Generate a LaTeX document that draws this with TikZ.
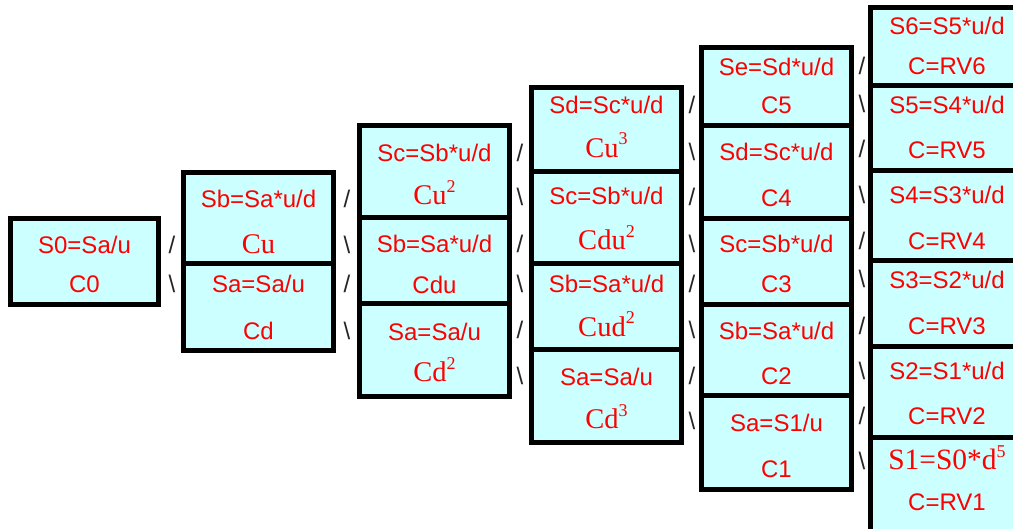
\documentclass[tikz,border=0pt]{standalone}
\usepackage{fontspec}
\setmainfont{Liberation Sans}
\newfontfamily\serf{Liberation Serif}
\usetikzlibrary{fit}
\definecolor{boxfill}{HTML}{CCFFFF}
\definecolor{txtred}{HTML}{FF0000}
\newcommand\pw[1]{\raisebox{12.5pt}{\fontsize{18}{18}\selectfont #1}}
\begin{document}
\begin{tikzpicture}[x=1pt,y=-1pt,
  cell/.style={draw=black, line width=5pt, fill=boxfill, rectangle, inner sep=0pt},
  lbl/.style={anchor=base, text=txtred, font=\fontsize{24}{28}\selectfont, inner sep=0pt},
  slbl/.style={anchor=base, text=txtred, font=\serf\fontsize{28.5}{32}\selectfont, inner sep=0pt},
  sl/.style={anchor=base, text=black!85, font=\fontsize{24}{28}\selectfont, inner sep=0pt}]
\useasboundingbox (0,0) rectangle (1013,529);
\fill[white] (0,0) rectangle (1013,529);
\clip (0,0) rectangle (1013,529);

% column 0
\node[cell, fit={(10.5,218.5) (158.5,304.5)}] (b00) {};
\node[lbl] (t00a) at (84.5,254) {S0=Sa/u};
\node[lbl] (t00b) at (84.5,293) {C0};

% column 1
\node[cell, fit={(183.5,172.5) (333.5,264)}] (b10) {};
\node[cell, fit={(183.5,264) (333.5,350.5)}] (b11) {};
\node[lbl] (t10a) at (258.5,208) {Sb=Sa*u/d};
\node[slbl] (t10b) at (258.5,254) {Cu};
\node[lbl] (t11a) at (258.5,293) {Sa=Sa/u};
\node[lbl] (t11b) at (258.5,340) {Cd};

% column 2
\node[cell, fit={(359.5,125.5) (509.5,218)}] (b20) {};
\node[cell, fit={(359.5,218) (509.5,304)}] (b21) {};
\node[cell, fit={(359.5,304) (509.5,396.5)}] (b22) {};
\node[lbl] (t20a) at (434.5,162) {Sc=Sb*u/d};
\node[slbl] (t20b) at (434.5,205) {Cu\pw{2}};
\node[lbl] (t21a) at (434.5,253) {Sb=Sa*u/d};
\node[lbl] (t21b) at (434.5,294) {Cdu};
\node[lbl] (t22a) at (434.5,340.5) {Sa=Sa/u};
\node[slbl] (t22b) at (434.5,382) {Cd\pw{2}};

% column 3
\node[cell, fit={(531.5,87.5) (681.5,172)}] (b30) {};
\node[cell, fit={(531.5,172) (681.5,264)}] (b31) {};
\node[cell, fit={(531.5,264) (681.5,350)}] (b32) {};
\node[cell, fit={(531.5,350) (681.5,442.5)}] (b33) {};
\node[lbl] (t30a) at (606.5,113.5) {Sd=Sc*u/d};
\node[slbl] (t30b) at (606.5,157.5) {Cu\pw{3}};
\node[lbl] (t31a) at (606.5,205) {Sc=Sb*u/d};
\node[slbl] (t31b) at (606.5,250) {Cdu\pw{2}};
\node[lbl] (t32a) at (606.5,293) {Sb=Sa*u/d};
\node[slbl] (t32b) at (606.5,336.5) {Cud\pw{2}};
\node[lbl] (t33a) at (606.5,386) {Sa=Sa/u};
\node[slbl] (t33b) at (606.5,428.5) {Cd\pw{3}};

% column 4
\node[cell, fit={(701.5,47.5) (851.5,125.5)}] (b40) {};
\node[cell, fit={(701.5,125.5) (851.5,218.5)}] (b41) {};
\node[cell, fit={(701.5,218.5) (851.5,304.5)}] (b42) {};
\node[cell, fit={(701.5,304.5) (851.5,396)}] (b43) {};
\node[cell, fit={(701.5,396) (851.5,489.5)}] (b44) {};
\node[lbl] (t40a) at (776.5,75.5) {Se=Sd*u/d};
\node[lbl] (t40b) at (776.5,114) {C5};
\node[lbl] (t41a) at (776.5,160.5) {Sd=Sc*u/d};
\node[lbl] (t41b) at (776.5,206.5) {C4};
\node[lbl] (t42a) at (776.5,252.5) {Sc=Sb*u/d};
\node[lbl] (t42b) at (776.5,293) {C3};
\node[lbl] (t43a) at (776.5,339.5) {Sb=Sa*u/d};
\node[lbl] (t43b) at (776.5,385) {C2};
\node[lbl] (t44a) at (776.5,431.5) {Sa=S1/u};
\node[lbl] (t44b) at (776.5,478) {C1};

% column 5
\node[cell, fit={(870,7.5) (1024,86)}] (b50) {};
\node[cell, fit={(870,86) (1024,171)}] (b51) {};
\node[cell, fit={(870,171) (1024,261)}] (b52) {};
\node[cell, fit={(870,261) (1024,347)}] (b53) {};
\node[cell, fit={(870,347) (1024,438)}] (b54) {};
\node[cell, fit={(870,438) (1024,536)}] (b55) {};
\node[lbl] (t50a) at (947,35) {S6=S5*u/d};
\node[lbl] (t50b) at (947,75) {C=RV6};
\node[lbl] (t51a) at (947,113.5) {S5=S4*u/d};
\node[lbl] (t51b) at (947,158.5) {C=RV5};
\node[lbl] (t52a) at (947,204) {S4=S3*u/d};
\node[lbl] (t52b) at (947,250) {C=RV4};
\node[lbl] (t53a) at (947,288.5) {S3=S2*u/d};
\node[lbl] (t53b) at (947,334.5) {C=RV3};
\node[lbl] (t54a) at (947,380) {S2=S1*u/d};
\node[lbl] (t54b) at (947,425) {C=RV2};
\node[slbl, font=\serf\fontsize{29.5}{32}\selectfont] (t55a) at (947,470) {S1=S0*d\pw{5}};
\node[lbl] (t55b) at (947,510) {C=RV1};

% slashes between columns 0-1
\node[sl] (s01a) at (172,254) {/};
\node[sl] (s01b) at (172,293) {\textbackslash};
% 1-2
\node[sl] (s12a) at (347,208) {/};
\node[sl] (s12b) at (347,254) {\textbackslash};
\node[sl] (s12c) at (347,293) {/};
\node[sl] (s12d) at (347,340) {\textbackslash};
% 2-3
\node[sl] (s23a) at (520,162) {/};
\node[sl] (s23b) at (520,206) {\textbackslash};
\node[sl] (s23c) at (520,253) {/};
\node[sl] (s23d) at (520,293) {\textbackslash};
\node[sl] (s23e) at (520,339) {/};
\node[sl] (s23f) at (520,385) {\textbackslash};
% 3-4
\node[sl] (s34a) at (692,114) {/};
\node[sl] (s34b) at (692,161) {\textbackslash};
\node[sl] (s34c) at (692,206) {/};
\node[sl] (s34d) at (692,253) {\textbackslash};
\node[sl] (s34e) at (692,293) {/};
\node[sl] (s34f) at (692,339) {\textbackslash};
\node[sl] (s34g) at (692,385) {/};
\node[sl] (s34h) at (692,430) {\textbackslash};
% 4-5
\node[sl] (s45a) at (862,75) {/};
\node[sl] (s45b) at (862,113) {\textbackslash};
\node[sl] (s45c) at (862,158) {/};
\node[sl] (s45d) at (862,204) {\textbackslash};
\node[sl] (s45e) at (862,250) {/};
\node[sl] (s45f) at (862,288) {\textbackslash};
\node[sl] (s45g) at (862,335) {/};
\node[sl] (s45h) at (862,380) {\textbackslash};
\node[sl] (s45i) at (862,425) {/};
\node[sl] (s45j) at (862,470) {\textbackslash};
\end{tikzpicture}
\end{document}
